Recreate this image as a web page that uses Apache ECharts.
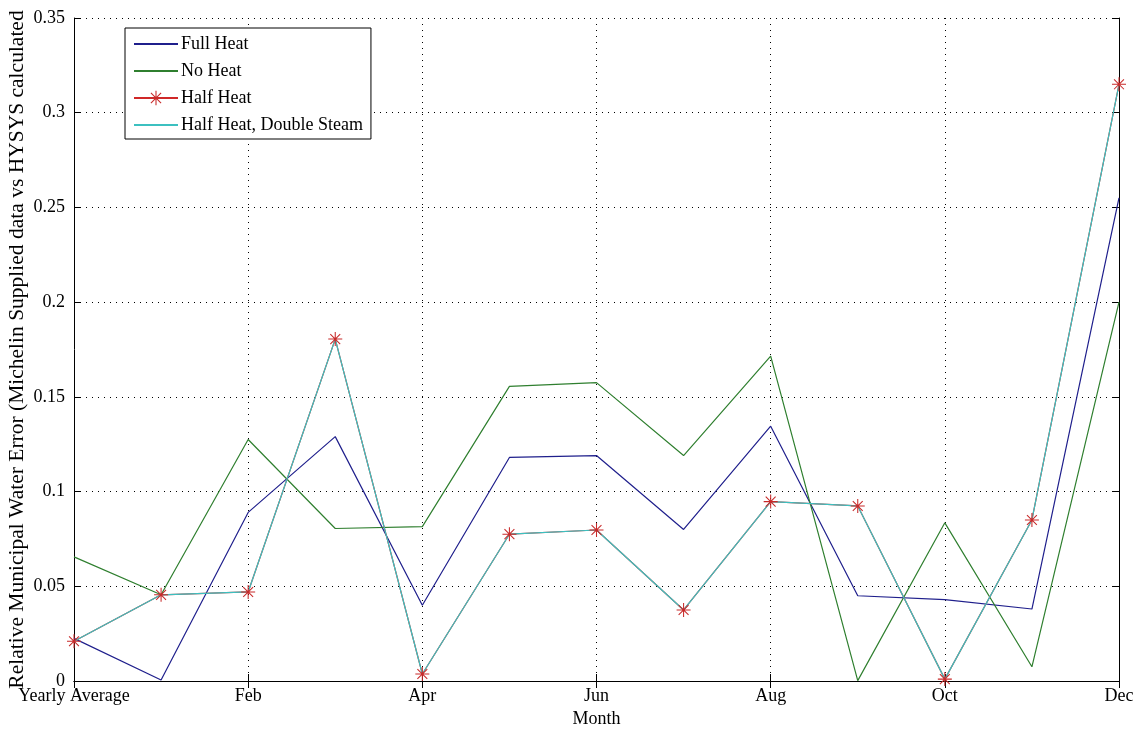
<!DOCTYPE html>
<html>
<head>
<meta charset="utf-8">
<script src="https://cdn.jsdelivr.net/npm/echarts@6/dist/echarts.min.js"></script>
<style>
html,body{margin:0;padding:0;background:#fff;}
#chart{width:1138px;height:734px;}
</style>
</head>
<body>
<div id="chart"></div>
<script>
const categories = ['Yearly Average','Jan','Feb','Mar','Apr','May','Jun','Jul','Aug','Sep','Oct','Nov','Dec'];
const fullHeat = [0.0225, 0.0005, 0.089, 0.129, 0.040, 0.118, 0.119, 0.080, 0.1345, 0.045, 0.043, 0.038, 0.255];
const noHeat = [0.0655, 0.0455, 0.1275, 0.0805, 0.0815, 0.1555, 0.1575, 0.119, 0.1715, 0.0002, 0.0835, 0.0075, 0.2];
const halfHeat = [0.021, 0.0455, 0.047, 0.1805, 0.0037, 0.0775, 0.0797, 0.0375, 0.0947, 0.0924, 0.001, 0.085, 0.315];
const halfHeatDoubleSteam = [0.021, 0.0455, 0.047, 0.1805, 0.0037, 0.0775, 0.0797, 0.0375, 0.0947, 0.0924, 0.001, 0.085, 0.315];
const yTicks = {min: 0, max: 0.35, interval: 0.05};

const FONT = '"Liberation Serif", "Times New Roman", serif';
const star = 'path://M0 9.25 L20 9.25 L20 10.75 L0 10.75 Z M9.25 0 L10.75 0 L10.75 20 L9.25 20 Z M3.46 2.40 L17.6 16.54 L16.54 17.6 L2.40 3.46 Z M17.6 3.46 L3.46 17.6 L2.40 16.54 L16.54 2.40 Z';

const chart = echarts.init(document.getElementById('chart'), null, {renderer: 'canvas'});
const dotted = {color: '#000', width: 1, type: [1, 5]};
chart.setOption({
  animation: false,
  backgroundColor: '#fff',
  textStyle: {fontFamily: FONT},
  grid: {left: 74, right: 19, top: 18, bottom: 53, show: false, containLabel: false, outerBoundsMode: 'none'},
  legend: {
    orient: 'vertical',
    left: 125, top: 28,
    backgroundColor: '#fff',
    borderColor: '#000', borderWidth: 1,
    padding: [7, 8, 5, 8],
    itemWidth: 44, itemHeight: 18, itemGap: 9,
    borderRadius: 0,
    textStyle: {fontFamily: FONT, fontSize: 18, color: '#000', padding: [0, 0, 0, -2]},
    data: [
      {name: 'Full Heat', itemStyle: {opacity: 0}},
      {name: 'No Heat', itemStyle: {opacity: 0}},
      {name: 'Half Heat'},
      {name: 'Half Heat, Double Steam', itemStyle: {opacity: 0}}
    ]
  },
  xAxis: [{
    type: 'category', data: categories, boundaryGap: false,
    name: 'Month', nameLocation: 'middle', nameGap: 29, nameMoveOverlap: false,
    nameTextStyle: {fontFamily: FONT, fontSize: 18, color: '#000'},
    axisLine: {lineStyle: {color: '#000', width: 1}},
    axisTick: {inside: true, length: 7, interval: 1, lineStyle: {color: '#000'}},
    axisLabel: {interval: 1, fontFamily: FONT, fontSize: 18, color: '#000', margin: 6},
    splitLine: {show: true, interval: 1, lineStyle: dotted}
  }, {
    type: 'category', data: categories, boundaryGap: false, position: 'top',
    axisLine: {lineStyle: {color: '#000', width: 1}},
    axisTick: {inside: true, length: 7, interval: 1, lineStyle: {color: '#000'}},
    axisLabel: {show: false},
    splitLine: {show: false}
  }],
  yAxis: [{
    type: 'value', min: yTicks.min, max: yTicks.max, interval: yTicks.interval,
    name: 'Relative Municipal Water Error (Michelin Supplied data vs HYSYS calculated',
    nameLocation: 'middle', nameGap: 46, nameMoveOverlap: false,
    nameTextStyle: {fontFamily: FONT, fontSize: 21.5, color: '#000'},
    axisLine: {show: true, lineStyle: {color: '#000', width: 1}},
    axisTick: {show: true, inside: true, length: 7, lineStyle: {color: '#000'}},
    axisLabel: {fontFamily: FONT, fontSize: 18, color: '#000', margin: 9},
    splitLine: {show: true, lineStyle: dotted}
  }, {
    type: 'value', min: yTicks.min, max: yTicks.max, interval: yTicks.interval, position: 'right',
    axisLine: {show: true, lineStyle: {color: '#000', width: 1}},
    axisTick: {show: true, inside: true, length: 7, lineStyle: {color: '#000'}},
    axisLabel: {show: false},
    splitLine: {show: false}
  }],
  series: [
    {name: 'Full Heat', type: 'line', data: fullHeat, symbol: 'none',
     lineStyle: {color: '#1f1f8c', width: 1.2}, itemStyle: {color: '#1f1f8c'}},
    {name: 'No Heat', type: 'line', data: noHeat, symbol: 'none',
     lineStyle: {color: '#2f7f2f', width: 1.2}, itemStyle: {color: '#2f7f2f'}},
    {name: 'Half Heat', type: 'line', data: halfHeat, symbol: star, symbolSize: 14, showSymbol: true,
     lineStyle: {color: '#d02828', width: 1.2}, itemStyle: {color: '#c82a2a'}},
    {name: 'Half Heat, Double Steam', type: 'line', data: halfHeatDoubleSteam, symbol: 'none',
     lineStyle: {color: '#3cc0c0', width: 1.2}, itemStyle: {color: '#3cc0c0'}}
  ]
});
</script>
</body>
</html>
